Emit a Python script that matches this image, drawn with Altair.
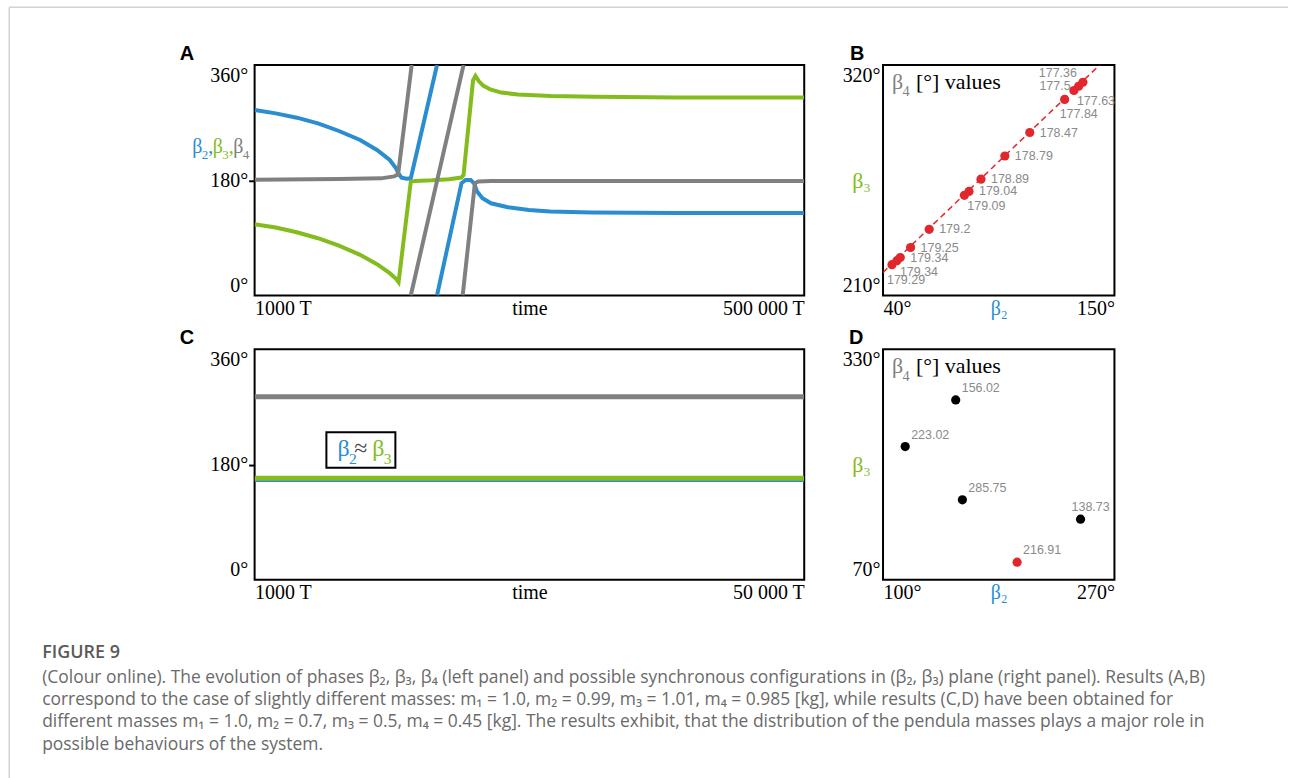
import altair as alt
import pandas as pd

SERIF = "Liberation Serif, DejaVu Serif, serif"
SANS = "Liberation Sans, Arial, sans-serif"
CAP = "Open Sans, Noto Sans, sans-serif"
BLUE = "#2a8dd0"
GREEN = "#84bc1e"
GRAY = "#808080"
RED = "#e1262c"
LGRAY = "#8a8a8a"

# ---------------- Panel A : time series (time in T, angle in degrees) ----------------
a_blue1_t = [1000, 20200, 39300, 58500, 77600, 96800, 112100, 123700, 129400, 132100, 134400, 139000, 142800, 166600]
a_blue1_v = [289.8, 284.5, 277.8, 269.0, 257.0, 242.9, 227.3, 211.7, 198.7, 189.3, 184.1, 182.6, 183.1, 360.0]
a_blue2_t = [166600, 188800, 192600, 197200, 200300, 203000, 207900, 215600, 230900, 250100, 269300, 307600, 384200, 500000]
a_blue2_v = [0.0, 175.3, 180.5, 180.5, 175.3, 162.3, 151.9, 144.1, 137.9, 133.7, 131.1, 129.5, 129.0, 129.0]
a_green_t = [1000, 20200, 39300, 58500, 77600, 96800, 112100, 123700, 129400, 131700, 142800, 146700, 162000,
             177300, 188800, 190700, 199300, 201500, 204500, 208500, 215000, 225000, 240000, 270000, 310000,
             385000, 500000]
a_green_v = [111.3, 106.1, 98.8, 89.5, 78.0, 63.5, 48.9, 34.9, 26.0, 20.8, 177.9, 179.0, 180.0,
             181.6, 184.2, 188.3, 336.0, 343.0, 335.0, 328.0, 322.0, 317.0, 314.0, 311.6, 310.6,
             309.5, 309.5]
a_gray1_t = [1000, 77600, 116000, 127500, 131300, 143600]
a_gray1_v = [181.0, 182.0, 183.0, 186.0, 189.3, 360.0]
a_gray2_t = [142800, 190700]
a_gray2_v = [0.0, 360.0]
a_gray3_t = [189900, 201000, 204100, 215600, 500000]
a_gray3_v = [0.0, 175.3, 178.0, 179.0, 179.0]

# ---------------- Panel C : time series ----------------
c_t = [1000, 50000]
c_gray_v = [286.1, 286.1]
c_green_v = [158.7, 158.7]
c_blue_v = [156.0, 156.0]

# ---------------- Panel B : synchronous configurations ----------------
b_beta2 = [135.0, 132.96, 130.75, 126.33, 109.76, 97.9, 86.56, 80.88, 78.67, 61.94, 53.1, 48.2, 46.6, 44.25]
b_beta3 = [311.8, 309.9, 307.85, 303.6, 287.8, 276.6, 265.55, 259.7, 257.8, 241.6, 232.9, 228.1, 226.6, 224.7]
b_beta4 = ["177.36", "177.5", "177.63", "177.84", "178.47", "178.79", "178.89", "179.04", "179.09",
           "179.2", "179.25", "179.34", "179.34", "179.29"]
b_label_side = ["above-left", "left", "below-right", "below", "right", "right", "right", "right",
                "below-right", "right", "right", "right", "below-right", "below"]
b_fit_beta2 = [40.0, 142.9]
b_fit_beta3 = [221.0, 320.0]

# ---------------- Panel D ----------------
d_beta2 = [153.4, 116.3, 158.3, 245.1, 198.5]
d_beta3 = [272.9, 220.3, 160.2, 138.4, 89.9]
d_beta4 = ["156.02", "223.02", "285.75", "138.73", "216.91"]
d_highlight = [False, False, False, False, True]
d_label_side = ["above-right", "above-right", "above-right", "above", "above-right"]

caption_title = "FIGURE 9"
caption_lines = [
    "(Colour online). The evolution of phases β₂, β₃, β₄ (left panel) and possible synchronous configurations in (β₂, β₃) plane (right panel). Results (A,B)",
    "correspond to the case of slightly different masses: m₁ = 1.0, m₂ = 0.99, m₃ = 1.01, m₄ = 0.985 [kg], while results (C,D) have been obtained for",
    "different masses m₁ = 1.0, m₂ = 0.7, m₃ = 0.5, m₄ = 0.45 [kg]. The results exhibit, that the distribution of the pendula masses plays a major role in",
    "possible behaviours of the system.",
]

WA, WB, H = 551, 232, 231


def annot(text, x, y, **kw):
    style = dict(align="left", baseline="middle")
    style.update(kw)
    return alt.Chart(pd.DataFrame({"txt": [text]})).mark_text(**style).encode(
        x=alt.value(x), y=alt.value(y), text="txt:N")


def time_x(tmax, tlabel):
    mid = (1000 + tmax) / 2
    return alt.X("t:Q", scale=alt.Scale(domain=[1000, tmax], nice=False, zero=False),
                 axis=alt.Axis(values=[1000, mid, tmax], title=None, ticks=False, labelFlush=True,
                               labelFlushOffset=0, labelPadding=3, labelOverlap=False,
                               labelExpr=f"datum.value < 2000 ? '1000 T' : (datum.value > {mid + 1} ? '{tlabel}' : 'time')"))


Y_TIME = alt.Y("v:Q", scale=alt.Scale(domain=[0, 360], nice=False),
               axis=alt.Axis(values=[0, 180, 360], title=None, labelExpr="datum.value + '°'",
                             labelFlush=True, labelFlushOffset=0, tickSize=6, tickWidth=2, tickColor="black",
                             tickOpacity={"condition": {"test": "datum.value == 180", "value": 1}, "value": 0},
                             labelPadding=1, labelOverlap=False))


def series(ts, vs, seg=0):
    return pd.DataFrame({"t": ts, "v": vs, "seg": [seg] * len(ts)})


def lines(df, color, width, X):
    return alt.Chart(df).mark_line(color=color, strokeWidth=width, clip=True).encode(
        x=X, y=Y_TIME, detail="seg:N")


def beta_sym(digit, x0, ybase, color, size=20, comma=False):
    """A beta with a real lowered subscript digit (and optional trailing comma)."""
    out = [annot("β", x0, ybase, font=SERIF, fontSize=size, color=color, baseline="alphabetic"),
           annot(digit, x0 + 0.48 * size, ybase + 0.33 * size, font=SERIF, fontSize=0.65 * size,
                 color=color, baseline="alphabetic")]
    if comma:
        out.append(annot(",", x0 + 0.8 * size, ybase, font=SERIF, fontSize=size, color=color,
                         baseline="alphabetic"))
    return out


XA = time_x(500000, "500 000 T")
a_blue = pd.concat([series(a_blue1_t, a_blue1_v, 0), series(a_blue2_t, a_blue2_v, 1)])
a_green = series(a_green_t, a_green_v)
a_gray = pd.concat([series(a_gray1_t, a_gray1_v, 0), series(a_gray2_t, a_gray2_v, 1),
                    series(a_gray3_t, a_gray3_v, 2)])

frame_top = alt.Chart(pd.DataFrame({"k": [0]})).mark_rule(color="#d2d2d2", strokeWidth=1.5).encode(
    x=alt.value(-246), x2=alt.value(1036), y=alt.value(-58))
frame_left = alt.Chart(pd.DataFrame({"k": [0]})).mark_rule(color="#d2d2d2", strokeWidth=1.5).encode(
    x=alt.value(-246), y=alt.value(-58), y2=alt.value(715))

panel_a = alt.layer(
    lines(a_blue, BLUE, 4, XA),
    lines(a_green, GREEN, 4, XA),
    lines(a_gray, GRAY, 4, XA),
    annot("A", -75, -5, font=SANS, fontSize=20, fontWeight="bold", baseline="alphabetic"),
    *beta_sym("2", -62.5, 88, BLUE, comma=True),
    *beta_sym("3", -42, 88, GREEN, comma=True),
    *beta_sym("4", -21.5, 88, GRAY),
    frame_top, frame_left,
).properties(width=WA, height=H)

# ---------------- Panel C ----------------
XC = time_x(50000, "50 000 T")
legend_df = pd.DataFrame({"t": [7400], "t2": [13550], "v": [175.0], "v2": [230.5]})

caption_layers = [annot(caption_title, -213, 304, font=CAP, fontSize=18, fontWeight=600, color="#5a5a5a")]
for i, line in enumerate(caption_lines):
    caption_layers.append(annot(line, -213, 329 + 22.5 * i, font=CAP, fontSize=17.5, color="#6a6a6a"))

panel_c = alt.layer(
    lines(series(c_t, c_gray_v), GRAY, 5, XC),
    lines(series(c_t, c_blue_v), BLUE, 4, XC),
    lines(series(c_t, c_green_v), GREEN, 5, XC),
    alt.Chart(legend_df).mark_rect(fill="white", stroke="black", strokeWidth=2).encode(
        x=XC, x2="t2:Q", y=Y_TIME, y2="v2:Q"),
    *beta_sym("2", 83, 107, BLUE, size=24),
    annot("≈", 100, 107, font=SERIF, fontSize=24, color="#444444", baseline="alphabetic"),
    *beta_sym("3", 118, 107, GREEN, size=24),
    annot("C", -75, -5, font=SANS, fontSize=20, fontWeight="bold", baseline="alphabetic"),
    *caption_layers,
).properties(width=WA, height=H)

# ---------------- Scatter panels ----------------
SIDES = {
    "right": dict(dx=10, dy=0, align="left"),
    "left": dict(dx=-8, dy=0, align="right"),
    "below": dict(dx=-5, dy=15, align="left"),
    "below-right": dict(dx=3, dy=11, align="left"),
    "above-left": dict(dx=-6, dy=-9, align="right"),
    "above-right": dict(dx=6, dy=-12, align="left"),
    "above": dict(dx=-9, dy=-12, align="left"),
}


def scatter_axes(xdom, ydom):
    xmid = (xdom[0] + xdom[1]) / 2
    X = alt.X("b2:Q", scale=alt.Scale(domain=xdom, nice=False, zero=False),
              axis=alt.Axis(values=[xdom[0], xmid, xdom[1]], title=None, ticks=False, labelFlush=True,
                            labelFlushOffset=0, labelPadding=3, labelOverlap=False,
                            labelExpr=f"datum.value == {xmid} ? 'β₂' : datum.value + '°'",
                            labelColor={"condition": {"test": f"datum.value == {xmid}", "value": BLUE},
                                        "value": "black"}))
    Y = alt.Y("b3:Q", scale=alt.Scale(domain=ydom, nice=False, zero=False),
              axis=alt.Axis(values=ydom, title="β₃", titleColor=GREEN, titleAngle=0, titleX=-22,
                            titleY=H / 2, titleAlign="center", titleBaseline="middle", titleFontSize=22,
                            titleFontWeight="normal", titleFont=SERIF, ticks=False, labelFlush=True,
                            labelFlushOffset=0, labelPadding=3, labelOverlap=False,
                            labelExpr="datum.value + '°'"))
    return X, Y


def label_layers(df, X, Y):
    out = []
    for side, st in SIDES.items():
        if side in set(df["side"]):
            out.append(alt.Chart(df).transform_filter(alt.datum.side == side).mark_text(
                font=SANS, fontSize=12.5, color=LGRAY, baseline="middle", **st).encode(x=X, y=Y, text="b4:N"))
    return out


def values_note():
    return [*beta_sym("4", 9, 24, GRAY, size=22),
            annot("[°] values", 33, 24, font=SERIF, fontSize=22, color="black", baseline="alphabetic")]


XB, YB = scatter_axes([40, 150], [210, 320])
b_df = pd.DataFrame({"b2": b_beta2, "b3": b_beta3, "b4": b_beta4, "side": b_label_side})
panel_b = alt.layer(
    alt.Chart(pd.DataFrame({"b2": b_fit_beta2, "b3": b_fit_beta3})).mark_line(
        color=RED, strokeWidth=1.5, strokeDash=[6, 4], clip=True).encode(x=XB, y=YB),
    alt.Chart(b_df).mark_circle(size=85, color=RED, opacity=1).encode(x=XB, y=YB),
    *label_layers(b_df, XB, YB),
    *values_note(),
    annot("B", -33, -5, font=SANS, fontSize=20, fontWeight="bold", baseline="alphabetic"),
).properties(width=WB, height=H)

XD, YD = scatter_axes([100, 270], [70, 330])
d_df = pd.DataFrame({"b2": d_beta2, "b3": d_beta3, "b4": d_beta4, "hl": d_highlight, "side": d_label_side})
panel_d = alt.layer(
    alt.Chart(d_df).mark_circle(size=85, opacity=1).encode(
        x=XD, y=YD,
        color=alt.condition(alt.datum.hl, alt.value(RED), alt.value("black"))),
    *label_layers(d_df, XD, YD),
    *values_note(),
    annot("D", -34, -5, font=SANS, fontSize=20, fontWeight="bold", baseline="alphabetic"),
).properties(width=WB, height=H)

chart = alt.concat(panel_a, panel_b, panel_c, panel_d, columns=2,
                   spacing={"row": 54, "column": 79}, bounds="flush").properties(
    padding={"left": 7.25, "top": 4.25, "right": 0, "bottom": 0}, background="white"
).configure_view(stroke="black", strokeWidth=2).configure_axis(
    grid=False, domain=False, labelFont=SERIF, labelFontSize=20, labelColor="black", titleFont=SERIF)

chart.save("out.html", embed_options={"renderer": "svg", "actions": False})
